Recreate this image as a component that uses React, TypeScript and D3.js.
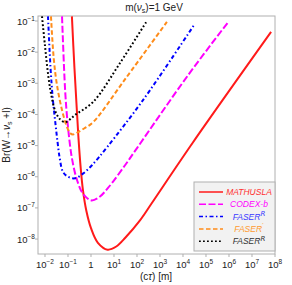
import React from "react";
import * as d3 from "d3";

// log10(cτ [m]) and log10(Br)
const mathuslaLogCt = [-0.83, -0.72, -0.62, -0.54, -0.45, -0.35, -0.2, 0.0, 0.3, 0.72, 1.1, 1.5, 2.13, 2.64, 4.43, 7.83];
const mathuslaLogBr = [-0.85, -2.5, -3.8, -4.8, -5.7, -6.43, -7.1, -7.65, -8.12, -8.34, -8.24, -7.95, -7.4, -6.85, -4.9, -1.35];

const codexLogCt = [-1.26, -1.13, -1.04, -0.91, -0.83, -0.65, -0.39, -0.15, 0.04, 0.35, 0.74, 1.48, 2.0, 4.22, 6.0];
const codexLogBr = [-0.85, -3.15, -4.09, -5.0, -5.4, -6.0, -6.5, -6.7, -6.76, -6.66, -6.36, -5.63, -5.08, -2.74, -1.0];

const faserRLogCt = [-1.87, -1.76, -1.66, -1.56, -1.46, -1.36, -1.22, -1.0, -0.7, -0.35, 0.04, 0.7, 2.26, 4.48];
const faserRLogBr = [-0.85, -2.5, -3.5, -4.2, -4.85, -5.4, -5.84, -6.0, -6.05, -5.9, -5.63, -5.05, -3.54, -1.13];

const faserPLogCt = [-1.74, -1.62, -1.48, -1.26, -1.04, -0.9, -0.78, -0.6, -0.3, 0.09, 1.5, 3.3];
const faserPLogBr = [-0.85, -2.2, -3.05, -3.86, -4.41, -4.6, -4.64, -4.58, -4.45, -4.25, -2.85, -1.03];

const faserNLogCt = [-2.13, -2.0, -1.85, -1.72, -1.55, -1.35, -1.13, -0.9, -0.7, 0.09, 1.26, 2.43];
const faserNLogBr = [-0.85, -1.8, -2.8, -3.4, -3.9, -4.15, -4.25, -4.15, -4.02, -3.6, -2.35, -1.0];

const xTickExps = [-2, -1, 0, 1, 2, 3, 4, 5, 6, 7, 8];
const yTickExps = [-1, -2, -3, -4, -5, -6, -7, -8];

const seriesNames = ["MATHUSLA", "CODEX-b", "FASER", "FASER", "FASER"];
const seriesSups = ["", "", "R", "\u2032", "R"];

const W = 292, H = 285;
const left = 38, right = 275, top = 16, bottom = 254;

export default function App() {
  const x = d3.scaleLog().domain([Math.pow(10, -2.304), 1e8]).range([left, right]);
  const y = d3.scaleLog().domain([Math.pow(10, -8.48), Math.pow(10, -0.839)]).range([bottom, top]);

  const series = [
    { ct: mathuslaLogCt, br: mathuslaLogBr, color: "#ff1a1a", dash: "", text: "#ff3030" },
    { ct: codexLogCt, br: codexLogBr, color: "#ff00ff", dash: "7,2.5", text: "#ff00ff" },
    { ct: faserRLogCt, br: faserRLogBr, color: "#0000ff", dash: "4,2.5,1.5,2.5", text: "#3a3aff" },
    { ct: faserPLogCt, br: faserPLogBr, color: "#ff8c1a", dash: "4.5,2.5", text: "#ff9a30" },
    { ct: faserNLogCt, br: faserNLogBr, color: "#000000", dash: "1.8,2.2", text: "#333333" },
  ];

  const line = d3
    .line<[number, number]>()
    .x((d) => x(Math.pow(10, d[0])))
    .y((d) => y(Math.pow(10, d[1])))
    .curve(d3.curveCatmullRom.alpha(0.5));

  const font = "DejaVu Sans, Liberation Sans, Arial, sans-serif";
  const font2 = "Liberation Sans, Arial, sans-serif";
  const frame = "#b0b0b0";

  return (
    <svg width={W} height={H} style={{ position: "absolute", left: 0, top: 0 }} fontFamily={font2}>
      <defs>
        <clipPath id="plotClip">
          <rect x={left} y={top} width={right - left} height={bottom - top} />
        </clipPath>
      </defs>
      <rect x={0} y={0} width={W} height={H} fill="#fff" />
      {/* title */}
      <text x={154} y={11} fontSize={10} textAnchor="middle" fill="#222">
        m(<tspan fontStyle="italic">ν</tspan>
        <tspan fontSize={7} dy={2}>s</tspan>
        <tspan dy={-2}>)=1 GeV</tspan>
      </text>
      {/* frame */}
      <rect x={left} y={top} width={right - left} height={bottom - top} fill="none" stroke={frame} strokeWidth={1} />
      {/* x ticks */}
      {xTickExps.map((e) => {
        const px = x(Math.pow(10, e));
        return (
          <g key={"x" + e}>
            <line x1={px} x2={px} y1={bottom} y2={bottom + 3} stroke={frame} />
            {e === 0 ? (
              <text x={px} y={268} fontSize={9.5} textAnchor="middle" fill="#222">1</text>
            ) : (
              <text x={px} y={268} fontSize={9.5} textAnchor="middle" fill="#222">
                10<tspan fontSize={6.5} dy={-4}>{e < 0 ? "\u2212" + -e : String(e)}</tspan>
              </text>
            )}
          </g>
        );
      })}
      {/* y ticks */}
      {yTickExps.map((e) => {
        const py = y(Math.pow(10, e));
        return (
          <g key={"y" + e}>
            <line x1={left - 3} x2={left} y1={py} y2={py} stroke={frame} />
            <text x={35} y={py + 3.5} fontSize={9.5} textAnchor="end" fill="#222">
              10<tspan fontSize={6.5} dy={-4}>{"\u2212" + -e}</tspan>
            </text>
          </g>
        );
      })}
      {/* axis labels */}
      <text x={156} y={280} fontSize={10} textAnchor="middle" fill="#222">
        (c<tspan fontStyle="italic">τ</tspan>) [m]
      </text>
      <text transform="translate(10,135) rotate(-90)" fontSize={10} textAnchor="middle" fill="#222">
        Br(W→<tspan fontStyle="italic">ν</tspan>
        <tspan fontSize={7} dy={2}>s</tspan>
        <tspan dy={-2}> +l)</tspan>
      </text>
      {/* curves */}
      <g clipPath="url(#plotClip)">
        {series.map((s, i) => {
          const pts = s.ct.map((c, j) => [c, s.br[j]] as [number, number]);
          return (
            <path
              key={i}
              d={line(pts) || ""}
              fill="none"
              stroke={s.color}
              strokeWidth={2}
              strokeDasharray={s.dash || undefined}
            />
          );
        })}
      </g>
      {/* legend */}
      <rect x={194} y={182} width={81} height={69} fill="#f2f2f2" stroke={frame} strokeWidth={1} />
      {series.map((s, i) => {
        const ly = 192 + i * 12.3;
        return (
          <g key={"l" + i}>
            <line x1={199} x2={223} y1={ly} y2={ly} stroke={s.color} strokeWidth={1.5} strokeDasharray={s.dash || undefined} />
            <text x={249} y={ly + 3} fontSize={8.5} fontStyle="italic" textAnchor="middle" fill={s.text}>
              {seriesNames[i]}
              {seriesSups[i] ? (
                <tspan fontSize={7} dy={-3.5} fontFamily={font}>{seriesSups[i]}</tspan>
              ) : null}
            </text>
          </g>
        );
      })}
    </svg>
  );
}
